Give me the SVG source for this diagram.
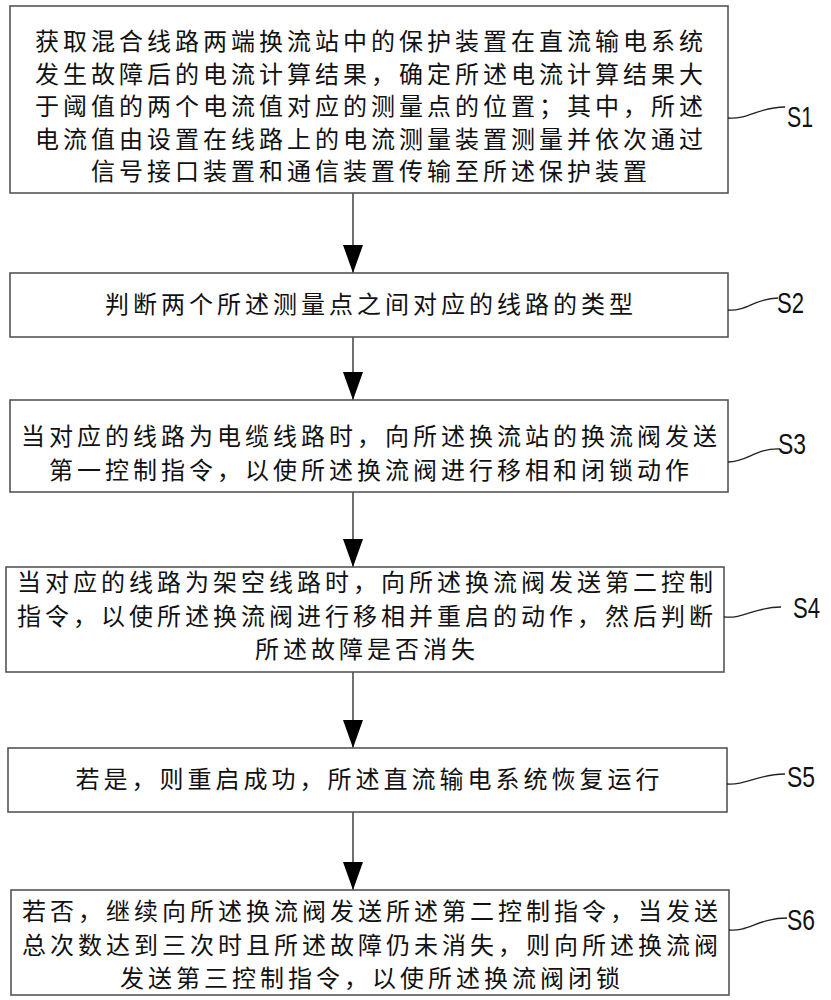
<svg xmlns="http://www.w3.org/2000/svg" width="831" height="1000" viewBox="0 0 831 1000">
<style>
.box{fill:#fff;stroke:#555;stroke-width:1.6}
.t{font-family:"Noto Sans CJK SC","Noto Sans CJK JP",sans-serif;font-size:24px;letter-spacing:4px;fill:#111;text-anchor:middle}
.lbl{font-family:"Liberation Sans",Arial,sans-serif;font-size:30px;fill:#111}
.sq{fill:none;stroke:#222;stroke-width:1.3}
.conn{stroke:#333;stroke-width:1.4;fill:none;marker-end:url(#ah)}
</style>
<defs>
<marker id="ah" markerUnits="userSpaceOnUse" markerWidth="28" markerHeight="20" refX="28" refY="10" orient="auto">
<path d="M0,0 L28,10 L0,20 Z" fill="#000"/>
</marker>
</defs>
<rect width="831" height="1000" fill="#fff"/>
<g id="connectors">
<line class="conn" x1="353" y1="193" x2="353" y2="273"/>
<line class="conn" x1="353" y1="337" x2="353" y2="400"/>
<line class="conn" x1="353" y1="492" x2="353" y2="567"/>
<line class="conn" x1="353" y1="672" x2="353" y2="748"/>
<line class="conn" x1="353" y1="812" x2="353" y2="890"/>
</g>
<g id="S1">
<rect class="box" x="10" y="6" width="718" height="187"/>
<text class="t" x="371" y="50">获取混合线路两端换流站中的保护装置在直流输电系统</text>
<text class="t" x="371" y="82.5">发生故障后的电流计算结果，确定所述电流计算结果大</text>
<text class="t" x="371" y="115">于阈值的两个电流值对应的测量点的位置；其中，所述</text>
<text class="t" x="371" y="147.5">电流值由设置在线路上的电流测量装置测量并依次通过</text>
<text class="t" x="371" y="180">信号接口装置和通信装置传输至所述保护装置</text>
<path class="sq" d="M728,118 C748,120 758,107 785,107"/>
<text class="lbl" x="787" y="127" textLength="26" lengthAdjust="spacingAndGlyphs">S1</text>
</g>
<g id="S2">
<rect class="box" x="10" y="273" width="718" height="64"/>
<text class="t" x="371" y="313">判断两个所述测量点之间对应的线路的类型</text>
<path class="sq" d="M728,310 C746,312 755,298 778,298"/>
<text class="lbl" x="777" y="313" textLength="27" lengthAdjust="spacingAndGlyphs">S2</text>
</g>
<g id="S3">
<rect class="box" x="10" y="400" width="718" height="92"/>
<text class="t" x="371" y="445">当对应的线路为电缆线路时，向所述换流站的换流阀发送</text>
<text class="t" x="371" y="479">第一控制指令，以使所述换流阀进行移相和闭锁动作</text>
<path class="sq" d="M728,462 C748,462 755,448 780,449"/>
<text class="lbl" x="778" y="454" textLength="28" lengthAdjust="spacingAndGlyphs">S3</text>
</g>
<g id="S4">
<rect class="box" x="6" y="567" width="718" height="105"/>
<text class="t" x="367" y="591">当对应的线路为架空线路时，向所述换流阀发送第二控制</text>
<text class="t" x="367" y="625">指令，以使所述换流阀进行移相并重启的动作，然后判断</text>
<text class="t" x="367" y="658">所述故障是否消失</text>
<path class="sq" d="M724,617 C744,619 755,607 781,607"/>
<text class="lbl" x="793" y="618" textLength="27" lengthAdjust="spacingAndGlyphs">S4</text>
</g>
<g id="S5">
<rect class="box" x="8" y="748" width="719" height="64"/>
<text class="t" x="369.5" y="788">若是，则重启成功，所述直流输电系统恢复运行</text>
<path class="sq" d="M727,784 C746,786 757,774 785,774"/>
<text class="lbl" x="787" y="787" textLength="28" lengthAdjust="spacingAndGlyphs">S5</text>
</g>
<g id="S6">
<rect class="box" x="11" y="890" width="718" height="105"/>
<text class="t" x="372" y="920">若否，继续向所述换流阀发送所述第二控制指令，当发送</text>
<text class="t" x="372" y="954">总次数达到三次时且所述故障仍未消失，则向所述换流阀</text>
<text class="t" x="372" y="987">发送第三控制指令，以使所述换流阀闭锁</text>
<path class="sq" d="M729,930 C748,932 759,918 787,918"/>
<text class="lbl" x="787" y="930" textLength="28" lengthAdjust="spacingAndGlyphs">S6</text>
</g>
</svg>
